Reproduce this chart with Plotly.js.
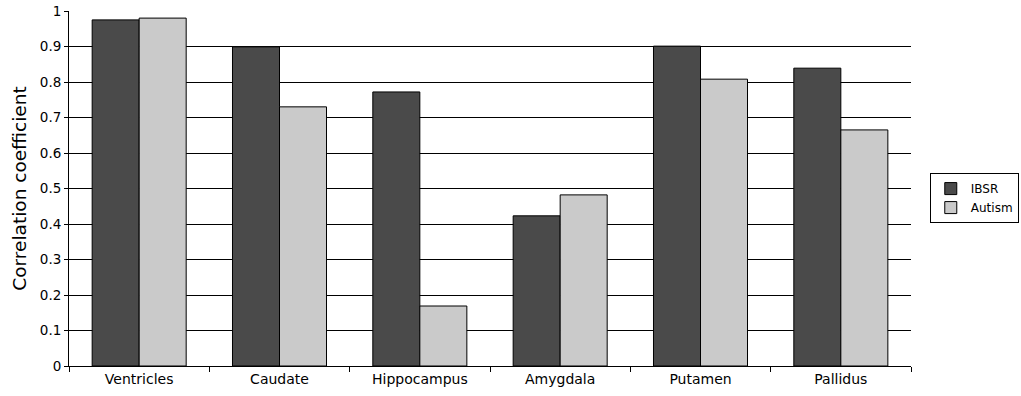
<!DOCTYPE html>
<html>
<head>
<meta charset="utf-8">
<script src="https://cdn.plot.ly/plotly-3.0.1.min.js"></script>
<style>html,body{margin:0;padding:0;background:#fff;}#chart{width:1021px;height:396px;}</style>
</head>
<body>
<div id="chart"></div>
<script>
const categories = ["Ventricles", "Caudate", "Hippocampus", "Amygdala", "Putamen", "Pallidus"];
const ibsr = [0.975, 0.899, 0.772, 0.423, 0.901, 0.839];
const autism = [0.980, 0.730, 0.169, 0.482, 0.808, 0.665];
const yTicks = [0, 0.1, 0.2, 0.3, 0.4, 0.5, 0.6, 0.7, 0.8, 0.9, 1];
const yTickText = ["0", "0.1", "0.2", "0.3", "0.4", "0.5", "0.6", "0.7", "0.8", "0.9", "1"];

const font = {family: "DejaVu Sans, sans-serif", color: "#000"};
const traces = [
  {type: "bar", name: "IBSR", x: categories, y: ibsr,
   marker: {color: "#4a4a4a", line: {color: "#000", width: 1}}},
  {type: "bar", name: "Autism", x: categories, y: autism,
   marker: {color: "#cacaca", line: {color: "#000", width: 1}}}
];
const layout = {
  width: 1021, height: 396,
  margin: {l: 69, r: 110, t: 11, b: 30, pad: 0, autoexpand: false},
  paper_bgcolor: "#fff", plot_bgcolor: "#fff",
  barmode: "group", bargap: 0.33, bargroupgap: 0,
  font: Object.assign({size: 13}, font),
  showlegend: true,
  legend: {x: 1.128, y: 0.473, xanchor: "right", yanchor: "middle",
    bordercolor: "#000", borderwidth: 1, bgcolor: "#fff",
    font: Object.assign({size: 12}, font), itemwidth: 30, tracegroupgap: 0},
  xaxis: {type: "category", showline: true, linecolor: "#000", linewidth: 1,
    ticks: "outside", tickson: "boundaries", ticklen: 5, tickcolor: "#000",
    showgrid: false, tickfont: Object.assign({size: 14}, font)},
  yaxis: {range: [0, 1], tickvals: yTicks, ticktext: yTickText,
    showline: true, linecolor: "#000", linewidth: 1,
    ticks: "outside", ticklen: 4, tickcolor: "#000",
    showgrid: true, gridcolor: "#000", gridwidth: 1, zeroline: false,
    tickfont: Object.assign({size: 13.5}, font),
    title: {text: "Correlation coefficient", font: Object.assign({size: 18.5}, font), standoff: 8}}
};
Plotly.newPlot("chart", traces, layout, {displayModeBar: false, staticPlot: true});
</script>
</body>
</html>
